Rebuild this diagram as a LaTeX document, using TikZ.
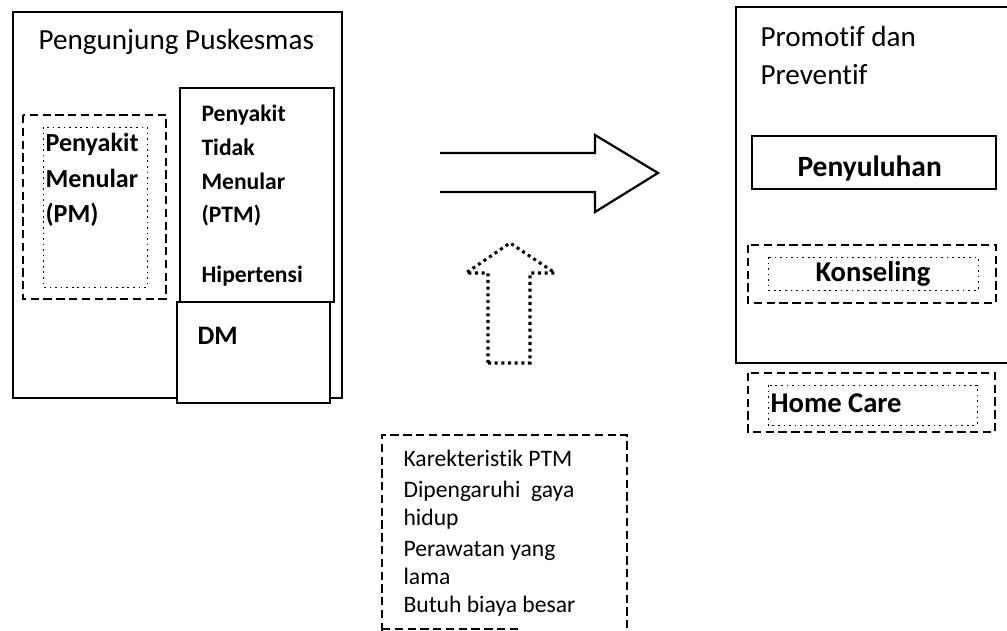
\documentclass[tikz,border=0pt]{standalone}
\usepackage{fontspec}
\setmainfont[Ligatures=NoCommon]{Carlito}
\usetikzlibrary{positioning}

\begin{document}
\begin{tikzpicture}[x=0.36pt, y=-0.36pt,
  box/.style={draw=black, thick, fill=white},
  dashbox/.style={draw=black, line width=0.7pt, dash pattern=on 3pt off 1.6pt},
  dotbox/.style={draw=black, line width=0.3pt, dash pattern=on 0.6pt off 1.4pt},
  lbl/.style={anchor=base west, inner sep=0pt, font=\fontsize{#1}{12}\selectfont},
  blbl/.style={anchor=base west, inner sep=0pt, font=\fontsize{#1}{12}\selectfont\bfseries}]
\useasboundingbox (0,0) rectangle (1007,631);

% pengunjung
\draw[box] (13,12) rectangle (342,398);
\node[lbl=10.5] (pengunjung) at (38,50) {Pengunjung Puskesmas};
\draw[dashbox] (23,115) rectangle (166,299);
\draw[dotbox] (43,127) rectangle (147,287);
\node[blbl=9.4] (pm1) at (45,152) {Penyakit};
\node[blbl=9.4] (pm2) at (45,188) {Menular};
\node[blbl=9.4] (pm3) at (45,223) {(PM)};
\draw[box] (180,88) rectangle (334,302);
\draw[box] (177,302) rectangle (330,403);
\node[blbl=8.5] (ptm1) at (201,122) {Penyakit};
\node[blbl=8.5] (ptm2) at (201,156) {Tidak};
\node[blbl=8.5] (ptm3) at (201,190) {Menular};
\node[blbl=8.5] (ptm4) at (201,223) {(PTM)};
\node[blbl=8.5] (hipertensi) at (201,283) {Hipertensi};
\node[blbl=9.6] (dm) at (197,345) {DM};

% arrows
\draw[thick] (440,153) -- (595,153) -- (595,135) -- (658,173) -- (595,212) -- (595,192) -- (440,192);
\draw[line width=1.1pt, dash pattern=on 1.1pt off 1.3pt]
  (488,363) -- (488,273) -- (466,273) -- (510,243) -- (555,273) -- (530,273) -- (530,363) -- cycle;

% promotif dan preventif
\draw[thick] (1007,7) -- (736,7) -- (736,363) -- (1007,363);
\node[lbl=10.5] (promotif) at (760,47) {Promotif dan};
\node[lbl=10.5] (preventif) at (760,85) {Preventif};
\draw[box] (752,136) rectangle (996,189);
\node[blbl=10.6] (penyuluhan) at (797,177) {Penyuluhan};
\draw[dashbox] (748,245) rectangle (996,303);
\draw[dotbox] (768,257) rectangle (978,290);
\node[blbl=10.3] (konseling) at (815,282) {Konseling};
\draw[dashbox] (748,373) rectangle (995,432);
\draw[dotbox] (768,385) rectangle (977,425);
\node[blbl=10.3] (homecare) at (770,413) {Home Care};

% karakteristik
\draw[dashbox] (382,631) -- (382,435) -- (627,435) -- (627,631);
\draw[dashbox] (382,629) -- (522,629);
\node[lbl=8.5] (kar1) at (403,467) {Karekteristik PTM};
\node[lbl=8.5] (kar2) at (403,498) {Dipengaruhi\ \ gaya};
\node[lbl=8.5] (kar3) at (403,526) {hidup};
\node[lbl=8.5] (kar4) at (403,557) {Perawatan yang};
\node[lbl=8.5] (kar5) at (403,585) {lama};
\node[lbl=8.5] (kar6) at (403,613) {Butuh biaya besar};
\end{tikzpicture}
\end{document}
